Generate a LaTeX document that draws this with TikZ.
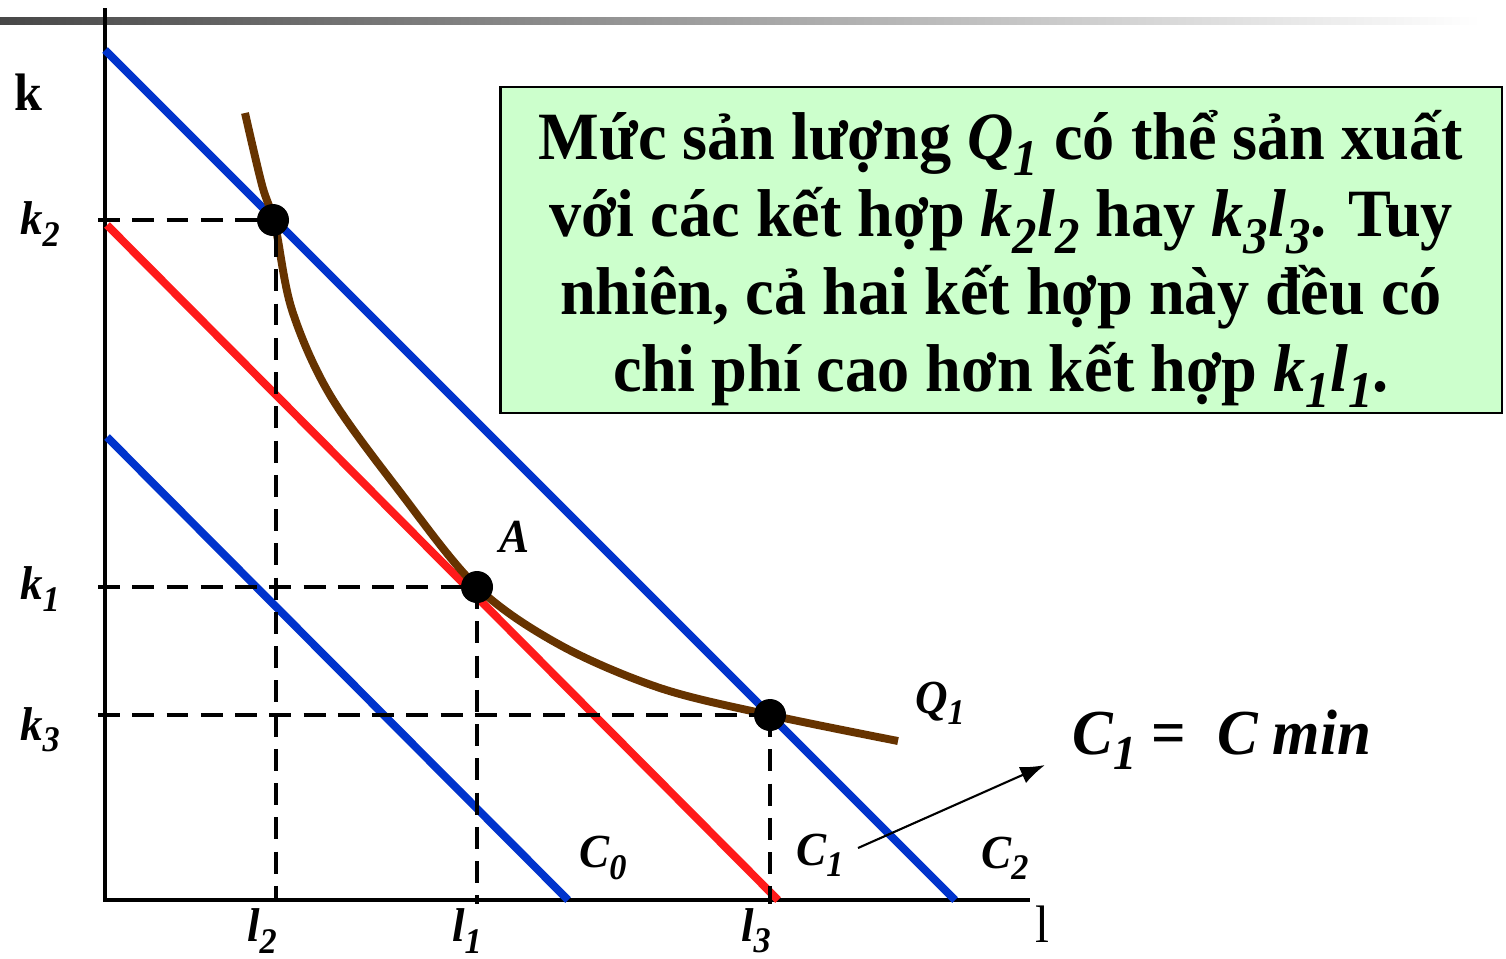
\documentclass[tikz,border=0pt]{standalone}
\usepackage{fontspec}
\setmainfont{Liberation Serif}[FakeStretch=0.95]
\usetikzlibrary{arrows.meta}
\definecolor{cblue}{HTML}{0033CC}
\definecolor{cred}{HTML}{FF1A1A}
\definecolor{cbrown}{HTML}{663300}
\definecolor{boxgreen}{HTML}{CCFFCC}
\newcommand\lsb[1]{\raisebox{-0.24em}{\scalebox{0.76}{\itshape #1}}}
\begin{document}
\begin{tikzpicture}[x=0.02cm,y=-0.02cm,
  axis/.style={line width=2.2pt,black},
  costline/.style={line width=4.5pt},
  guide/.style={line width=2.2pt,dash pattern=on 12.5pt off 7pt},
  dot/.style={circle,fill=black,inner sep=0pt,minimum size=0.64cm},
  lab/.style={font=\fontsize{27}{30}\selectfont\bfseries\itshape,inner sep=0pt},
  biglab/.style={font=\fontsize{36.5}{38}\selectfont\bfseries\itshape,inner sep=0pt}]
\useasboundingbox (0,0) rectangle (1506,958);
% top bar
\shade[left color=black!72,right color=white] (0,17) rectangle (1480,24);
% axes
\coordinate (O) at (105,900);
\coordinate (ytop) at (105,8);
\coordinate (xend) at (1030,900);
\draw[axis] (ytop) -- (O) -- (xend);
% cost lines
\coordinate (c2a) at (105,50);  \coordinate (c2b) at (955,900);
\coordinate (c1a) at (107,225); \coordinate (c1b) at (778,900);
\coordinate (c0a) at (107,437); \coordinate (c0b) at (568,900);
\draw[costline,cblue,line cap=butt] (c2a) -- (c2b);
\draw[costline,cred,line cap=butt] (c1a) -- (c1b);
\draw[costline,cblue,line cap=butt] (c0a) -- (c0b);
% isoquant
\draw[line width=4.5pt,cbrown] plot[smooth,tension=0.55] coordinates
 {(245,113) (262,185) (275,225) (292,310) (330,395) (400,492) (477,587) (560,645) (660,688) (770,715) (898,741)};
% points
\node[dot] (P2) at (273,220) {};
\node[dot] (PA) at (477,587) {};
\node[dot] (P3) at (770,715) {};
% guides
\coordinate (k2t) at (98,220);
\coordinate (k1t) at (98,587);
\coordinate (k3t) at (98,715);
\coordinate (l2t) at (276,898);
\coordinate (l1t) at (477,904);
\coordinate (l3t) at (770,904);
\draw[guide] (k2t) -- (P2.center);
\draw[guide] (k1t) -- (PA.center);
\draw[guide] (k3t) -- (P3.center);
\draw[guide] (P2.center) ++(3,15) -- (l2t);
\draw[guide] (PA.center) -- (l1t);
\draw[guide] (P3.center) -- (l3t);
% axis labels
\node[font=\fontsize{30}{32}\selectfont\bfseries,inner sep=0pt] (klab) at (28,92) {k};
\node[font=\fontsize{30}{32}\selectfont,inner sep=0pt,anchor=north] (llab) at (1042,906) {l};
\node[lab] (k2) at (40,224) {k\lsb{2}};
\node[lab] (k1) at (40,589) {k\lsb{1}};
\node[lab] (k3) at (40,730) {k\lsb{3}};
\node[lab] (l2) at (262,931) {l\lsb{2}};
\node[lab] (l1) at (467,931) {l\lsb{1}};
\node[lab] (l3) at (756,931) {l\lsb{3}};
\node[lab] (C0) at (603,858) {C\lsb{0}};
\node[lab] (C1) at (820,855) {C\lsb{1}};
\node[lab] (C2) at (1005,858) {C\lsb{2}};
\node[lab] (Q1) at (940,703) {Q\lsb{1}};
\node[lab] (A) at (515,537) {A};
\node[biglab] (Cmin) at (1222,740) {C\lsb{1}\ {\upshape =}\ \ C min};
% arrow
\coordinate (arrs) at (858,848);
\coordinate (arre) at (1045,765);
\draw[line width=1.2pt,-{Latex[length=14pt,width=10pt]}] (arrs) -- (arre);
% text box
\node[draw=black,line width=1.6pt,fill=boxgreen,minimum width=20.04cm,minimum height=6.52cm,
      inner sep=0pt] (box) at (1001,250) {};
\node[align=center,font=\fontsize{38.5}{44}\selectfont\bfseries,inner sep=0pt] (boxtext) at (1001,259)
 {Mức sản lượng \textit{Q}\lsb{1} có thể sản xuất\\
  với các kết hợp \textit{k}\lsb{2}\textit{l}\lsb{2} hay \textit{k}\lsb{3}\textit{l}\lsb{3}. Tuy\\
  nhiên, cả hai kết hợp này đều có\\
  chi phí cao hơn kết hợp \textit{k}\lsb{1}\textit{l}\lsb{1}.};
\end{tikzpicture}
\end{document}
